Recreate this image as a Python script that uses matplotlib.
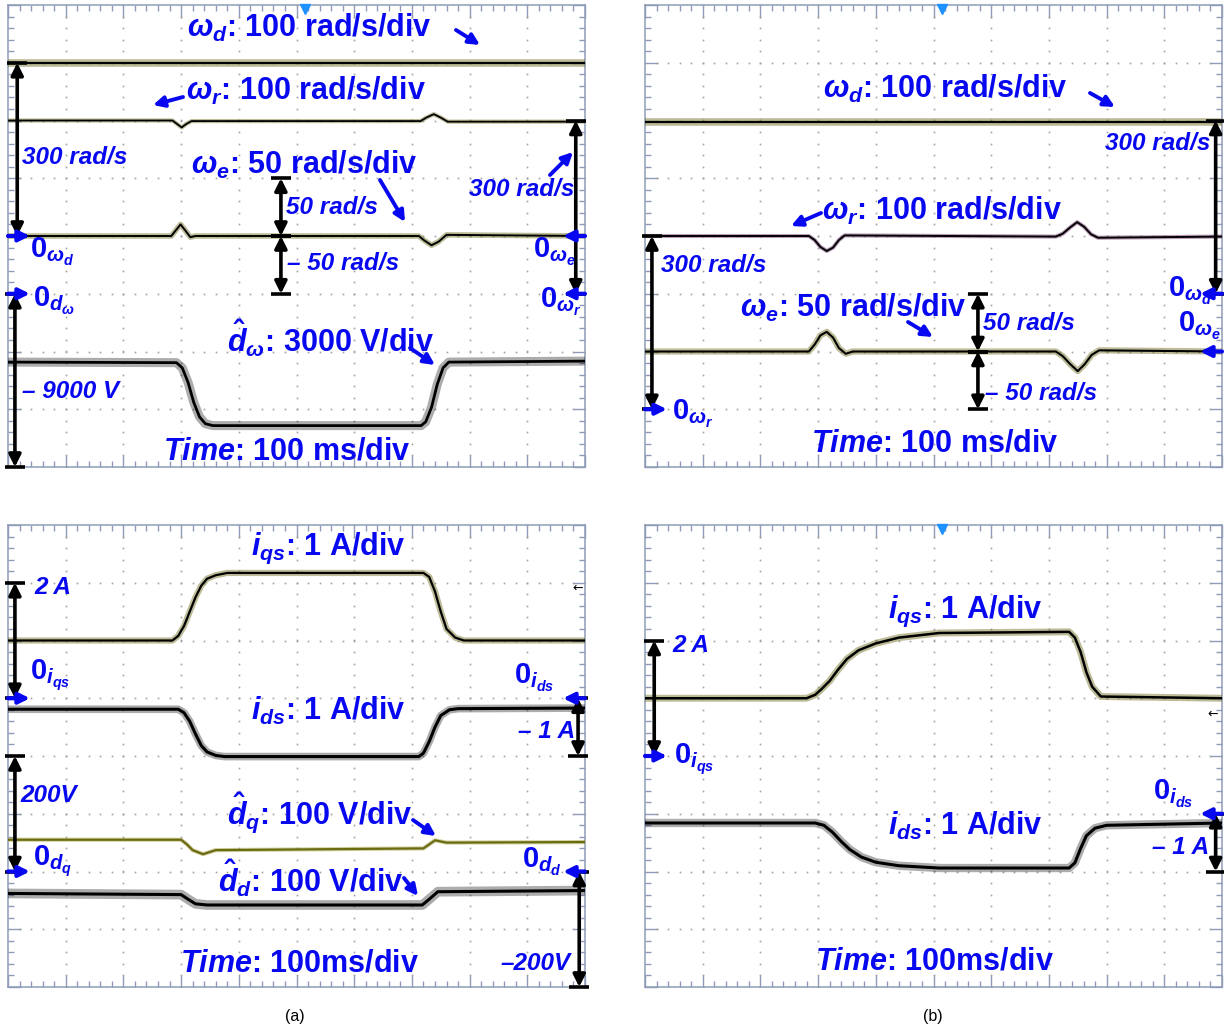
import numpy as np
import matplotlib
matplotlib.use("Agg")
import matplotlib.pyplot as plt
import matplotlib.patheffects as pe
from matplotlib.ticker import MultipleLocator

plt.rcParams['font.family'] = ['Liberation Sans', 'DejaVu Sans']
plt.rcParams['mathtext.fontset'] = 'custom'
plt.rcParams['mathtext.rm'] = 'Liberation Sans:bold'
plt.rcParams['mathtext.it'] = 'Liberation Sans:italic:bold'
plt.rcParams['mathtext.bf'] = 'Liberation Sans:bold'
plt.rcParams['mathtext.fallback'] = 'stix'

# ---------------- data (time in ms, values in physical units) ----------------
# (a) top: speeds and disturbance estimate
a_wd_t = [0, 1000]
a_wd_v = [300, 300]
a_wr_t = [0, 285, 293, 301, 309, 318, 715, 725, 738, 750, 762, 1000]
a_wr_v = [300, 300, 294, 288, 294, 299, 299, 305, 311, 305, 298, 298]
a_we_t = [0, 283, 291, 299, 307, 316, 325, 712, 722, 734, 746, 760, 1000]
a_we_v = [0, 0, 5, 10, 5, -1, 0, 0, -4, -8, -5, 1, 0]
a_dw_t = [0, 292, 302, 312, 322, 332, 342, 355, 716, 724, 734, 744, 754, 764, 1000]
a_dw_v = [-3550, -3580, -3850, -4600, -5650, -6400, -6750, -6850, -6850, -6650, -5900, -4700, -3850, -3550, -3500]

# (b) top: speeds
b_wd_t = [0, 1000]
b_wd_v = [297, 297]
b_wr_t = [0, 284, 294, 304, 315, 326, 336, 346, 712, 724, 737, 749, 761, 773, 785, 1000]
b_wr_v = [300, 300, 293, 281, 274, 280, 293, 301, 299, 304, 315, 324, 316, 303, 297, 299]
b_we_t = [0, 284, 294, 304, 315, 326, 336, 348, 360, 712, 724, 737, 750, 762, 774, 787, 1000]
b_we_v = [0, 0, 6, 14, 17, 12, 3, -2, 0, 0, -4, -11, -17, -11, -3, 1, 0]

# (a) bottom: currents and dq disturbance estimates
a_iqs_t = [0, 285, 295, 305, 315, 325, 335, 345, 360, 380, 720, 730, 740, 750, 760, 775, 790, 1000]
a_iqs_v = [1.0, 1.0, 1.08, 1.25, 1.5, 1.75, 1.95, 2.07, 2.13, 2.17, 2.17, 2.1, 1.85, 1.5, 1.2, 1.05, 1.0, 1.0]
a_ids_t = [0, 295, 305, 315, 325, 335, 345, 360, 375, 712, 720, 730, 740, 750, 765, 780, 1000]
a_ids_v = [-0.19, -0.19, -0.25, -0.4, -0.62, -0.82, -0.93, -0.99, -1.01, -1.01, -0.95, -0.75, -0.5, -0.3, -0.2, -0.18, -0.17]
a_dq_t = [0, 300, 310, 320, 338, 360, 720, 730, 740, 760, 1000]
a_dq_v = [55, 55, 47, 37, 30, 37, 40, 47, 54, 50, 51]
a_dd_t = [0, 300, 312, 325, 345, 718, 730, 745, 1000]
a_dd_v = [-38, -40, -48, -56, -58, -58, -48, -35, -33]

# (b) bottom: currents
b_iqs_t = [0, 280, 295, 305, 320, 335, 350, 370, 400, 440, 510, 735, 745, 755, 765, 775, 790, 1000]
b_iqs_v = [1.0, 1.0, 1.06, 1.15, 1.3, 1.5, 1.68, 1.83, 1.95, 2.05, 2.13, 2.15, 2.05, 1.8, 1.45, 1.2, 1.03, 1.0]
b_ids_t = [0, 295, 310, 325, 340, 355, 375, 400, 440, 510, 735, 745, 755, 765, 780, 800, 1000]
b_ids_v = [-0.16, -0.16, -0.2, -0.32, -0.48, -0.62, -0.75, -0.84, -0.9, -0.94, -0.94, -0.85, -0.6, -0.38, -0.25, -0.2, -0.16]

captions = ["(a)", "(b)"]

# ---------------- layout ----------------
W, H = 1224, 1032
fig = plt.figure(figsize=(W / 100, H / 100), dpi=100)
BLUE = '#0808f0'
GRIDC = '#a0a0a0'
FRAMEC = '#8f9cb8'


def make_panel(left, top, width=577, height=462):
    ax = fig.add_axes([left / W, 1 - (top + height) / H, width / W, height / H])
    ax.set_xlim(0, 1000)
    ax.set_ylim(-4, 4)
    ax.xaxis.set_major_locator(MultipleLocator(100))
    ax.xaxis.set_minor_locator(MultipleLocator(20))
    ax.yaxis.set_major_locator(MultipleLocator(1))
    ax.yaxis.set_minor_locator(MultipleLocator(0.2))
    ax.tick_params(which='both', direction='in', top=True, right=True, bottom=True, left=True,
                   labelbottom=False, labelleft=False, color=FRAMEC, width=1)
    ax.tick_params(which='major', length=9)
    ax.tick_params(which='minor', length=4)
    for s in ax.spines.values():
        s.set_color(FRAMEC)
        s.set_linewidth(1.1)
    # dotted graticule
    gx = np.arange(100, 1000, 100)
    gy = np.arange(-4, 4.001, 0.2)
    X, Y = np.meshgrid(gx, gy)
    ax.plot(X.ravel(), Y.ravel(), ls='none', marker='s', ms=1.2, mew=0, color=GRIDC)
    gy2 = np.arange(-3, 4, 1)
    gx2 = np.arange(0, 1000.01, 20)
    X2, Y2 = np.meshgrid(gx2, gy2)
    ax.plot(X2.ravel(), Y2.ravel(), ls='none', marker='s', ms=1.2, mew=0, color=GRIDC)
    return ax


def trace(ax, t, v, zero, scale, core='black', halo='#6f6b1c', w=1.6, hw=4.0, ha=0.45):
    y = zero + np.asarray(v, float) / scale
    ax.plot(t, y, color=core, lw=w, solid_joinstyle='round',
            path_effects=[pe.Stroke(linewidth=hw, foreground=halo, alpha=ha), pe.Normal()],
            zorder=5)


def measure(ax, x, y0, y1, bar=17):
    ax.annotate('', xy=(x, y1), xytext=(x, y0),
                arrowprops=dict(arrowstyle='<|-|>', color='black', lw=2.6, mutation_scale=18,
                                shrinkA=0, shrinkB=0), zorder=8, annotation_clip=False)
    for yy in (y0, y1):
        ax.plot([x - bar, x + bar], [yy, yy], color='black', lw=2.6, zorder=8, clip_on=False,
                solid_capstyle='butt')


def zero_mark(ax, y, side):
    if side == 'left':
        ax.annotate('', xy=(38, y), xytext=(0, y),
                    arrowprops=dict(arrowstyle='-|>', color=BLUE, lw=3, mutation_scale=16,
                                    shrinkA=0, shrinkB=0), zorder=9, annotation_clip=False)
    else:
        ax.annotate('', xy=(962, y), xytext=(1000, y),
                    arrowprops=dict(arrowstyle='-|>', color=BLUE, lw=3, mutation_scale=16,
                                    shrinkA=0, shrinkB=0), zorder=9, annotation_clip=False)


# ---- panel (a) top ----
ax1 = make_panel(8, 5)
trace(ax1, a_wd_t, a_wd_v, 0, 100, hw=5.5)
trace(ax1, a_wr_t, a_wr_v, -1, 100, w=1.3, hw=3)
trace(ax1, a_we_t, a_we_v, 0, 50, w=1.4, hw=4)
trace(ax1, a_dw_t, a_dw_v, -1, 3000, w=2.0, hw=6.5, halo='#111111', ha=0.35)
measure(ax1, 16, 0, 300 / 100)
measure(ax1, 473, 0, 50 / 50)
measure(ax1, 473, 0, -50 / 50)
measure(ax1, 984, -1, -1 + 300 / 100)
measure(ax1, 12, -1, -1 - 9000 / 3000)
zero_mark(ax1, 0, 'left')
zero_mark(ax1, 0, 'right')
zero_mark(ax1, -1, 'right')
zero_mark(ax1, -1, 'left')
ax1.plot([515], [3.93], marker='v', ms=7, color='#1e90ff', clip_on=False, zorder=9)

# ---- panel (b) top ----
ax2 = make_panel(645, 5)
trace(ax2, b_wd_t, b_wd_v, -1, 100, hw=5.5)
trace(ax2, b_wr_t, b_wr_v, -3, 100, w=1.4, hw=3, halo='#6a2a6a')
trace(ax2, b_we_t, b_we_v, -2, 50, w=1.5, hw=4.5)
measure(ax2, 989, -1, -1 + 300 / 100)
measure(ax2, 12, -3, -3 + 300 / 100)
measure(ax2, 577, -2, -2 + 50 / 50)
measure(ax2, 577, -2, -2 - 50 / 50)
zero_mark(ax2, -1, 'right')
zero_mark(ax2, -2, 'right')
zero_mark(ax2, -3, 'left')
ax2.plot([515], [3.93], marker='v', ms=7, color='#1e90ff', clip_on=False, zorder=9)

# ---- panel (a) bottom ----
ax3 = make_panel(8, 525)
trace(ax3, a_iqs_t, a_iqs_v, 1, 1, hw=4.5)
trace(ax3, a_ids_t, a_ids_v, 1, 1, w=2.2, hw=5.5, halo='#111111', ha=0.35)
trace(ax3, a_dq_t, a_dq_v, -2, 100, core='#6b6b12', w=1.6, hw=3, halo='#9c9a30')
trace(ax3, a_dd_t, a_dd_v, -2, 100, w=2.2, hw=7, halo='#111111', ha=0.35)
measure(ax3, 12, 1, 1 + 2 / 1)
measure(ax3, 988, 1, 1 - 1 / 1)
measure(ax3, 12, -2, -2 + 200 / 100)
measure(ax3, 990, -2, -2 - 200 / 100)
zero_mark(ax3, 1, 'left')
zero_mark(ax3, 1, 'right')
zero_mark(ax3, -2, 'left')
zero_mark(ax3, -2, 'right')

# ---- panel (b) bottom ----
ax4 = make_panel(645, 525)
trace(ax4, b_iqs_t, b_iqs_v, 0, 1, w=1.8, hw=5)
trace(ax4, b_ids_t, b_ids_v, -1, 1, w=2.2, hw=6, halo='#111111', ha=0.35)
measure(ax4, 16, 0, 0 + 2 / 1)
measure(ax4, 989, -1, -1 - 1 / 1)
zero_mark(ax4, 0, 'left')
zero_mark(ax4, -1, 'right')
ax4.plot([515], [3.93], marker='v', ms=7, color='#1e90ff', clip_on=False, zorder=9)

# ---------------- overlay for annotation text ----------------
ov = fig.add_axes([0, 0, 1, 1], zorder=20)
ov.set_xlim(0, W)
ov.set_ylim(H, 0)
ov.axis('off')
ov.patch.set_alpha(0)

big = [
    (r"$\omega_d$: 100 rad/s/div", 187, 28),
    (r"$\omega_r$: 100 rad/s/div", 186, 91),
    (r"$\omega_e$: 50 rad/s/div", 191, 165),
    (r"$\hat{d}_\omega$: 3000 V/div", 227, 338),
    (r"$Time$: 100 ms/div", 163, 452),
    (r"$\omega_d$: 100 rad/s/div", 823, 89),
    (r"$\omega_r$: 100 rad/s/div", 822, 211),
    (r"$\omega_e$: 50 rad/s/div", 740, 308),
    (r"$Time$: 100 ms/div", 811, 443),
    (r"$i_{qs}$: 1 A/div", 251, 548),
    (r"$i_{ds}$: 1 A/div", 251, 711),
    (r"$\hat{d}_q$: 100 V/div", 227, 813),
    (r"$\hat{d}_d$: 100 V/div", 218, 878),
    (r"$Time$: 100ms/div", 180, 963),
    (r"$i_{qs}$: 1 A/div", 888, 611),
    (r"$i_{ds}$: 1 A/div", 888, 826),
    (r"$Time$: 100ms/div", 815, 961),
]
for s, x, y in big:
    ov.text(x, y, s, color=BLUE, fontsize=22, fontweight='bold', ha='left', va='center')

small = [
    ("300 rad/s", 22, 157), ("50 rad/s", 286, 207), ("\u2013 50 rad/s", 287, 264),
    ("300 rad/s", 469, 190), ("\u2013 9000 V", 22, 392),
    ("300 rad/s", 1105, 143), ("300 rad/s", 661, 265), ("50 rad/s", 983, 324),
    ("\u2013 50 rad/s", 985, 393),
    ("2 A", 34, 587), ("\u2013 1 A", 518, 732), ("200V", 20, 796), ("\u2013200V", 500, 964),
    ("2 A", 672, 646), ("\u2013 1 A", 1152, 848),
]
for s, x, y in small:
    ov.text(x, y, s, color=BLUE, fontsize=17.5, fontweight='bold', fontstyle='italic',
            ha='left', va='center')

zeros = [
    (r"$0_{\omega_d}$", 30, 258), (r"$0_{\omega_e}$", 533, 258), (r"$0_{\omega_r}$", 540, 308),
    (r"$0_{d_\omega}$", 33, 307),
    (r"$0_{\omega_d}$", 1168, 297), (r"$0_{\omega_e}$", 1178, 332), (r"$0_{\omega_r}$", 672, 420),
    (r"$0_{i_{qs}}$", 30, 680), (r"$0_{i_{ds}}$", 514, 684), (r"$0_{d_q}$", 33, 866),
    (r"$0_{d_d}$", 522, 868),
    (r"$0_{i_{qs}}$", 674, 764), (r"$0_{i_{ds}}$", 1153, 800),
]
for s, x, y in zeros:
    ov.text(x, y, s, color=BLUE, fontsize=21, ha='left', va='baseline')

arrows = [
    ((456, 30), (480, 45)), ((183, 97), (153, 105)), ((380, 180), (405, 222)),
    ((550, 175), (573, 152)), ((410, 348), (435, 365)),
    ((1090, 93), (1115, 107)), ((821, 213), (791, 226)), ((908, 322), (933, 337)),
    ((413, 820), (436, 836)), ((404, 878), (418, 896)),
]
for (x0, y0), (x1, y1) in arrows:
    ov.annotate('', xy=(x1, y1), xytext=(x0, y0),
                arrowprops=dict(arrowstyle='-|>', color=BLUE, lw=2.8, mutation_scale=16,
                                shrinkA=0, shrinkB=0))

ov.text(578, 588, "\u2190", color='black', fontsize=9, ha='center', va='center',
        family='DejaVu Sans')
ov.text(1213, 714, "\u2190", color='black', fontsize=9, ha='center', va='center',
        family='DejaVu Sans')

ov.text(295, 1017, captions[0], color='black', fontsize=11.5, ha='center', va='center')
ov.text(933, 1017, captions[1], color='black', fontsize=11.5, ha='center', va='center')

fig.savefig('out.png', dpi=100, facecolor='white')
